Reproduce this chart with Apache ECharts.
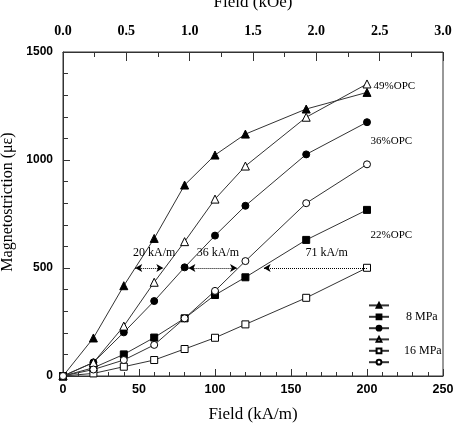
<!DOCTYPE html>
<html>
<head>
<meta charset="utf-8">
<script src="https://cdn.jsdelivr.net/npm/echarts@6/dist/echarts.min.js"></script>
<style>
  html, body { margin: 0; padding: 0; background: #fff; }
  #chart { width: 456px; height: 428px; }
</style>
</head>
<body>
<div id="chart"></div>
<script>
// field values (kA/m)
var fields = [0, 20, 40, 60, 80, 100, 120, 160, 200];

// magnetostriction (microstrain)
var mpa8_49 = [0, 176, 418, 637, 884, 1023, 1120, 1236, 1313];
var mpa8_36 = [0, 63, 202, 347, 503, 650, 788, 1026, 1175];
var mpa8_22 = [0, 38, 100, 178, 267, 375, 457, 630, 769];
var mpa16_49 = [0, 62, 231, 434, 622, 819, 972, 1198, 1352];
var mpa16_36 = [0, 30, 74, 144, 267, 394, 532, 800, 980];
var mpa16_22 = [0, 12, 43, 74, 125, 177, 239, 362, 501];

var topTicks = ['0.0', '0.5', '1.0', '1.5', '2.0', '2.5', '3.0'];

// dotted arrows at 500 microstrain: [fromX, toX, label, labelX]
var arrows = [
  [47.5, 66, '20 kA/m', 60],
  [82.5, 114.5, '36 kA/m', 102],
  [200, 132, '71 kA/m', 173.5]
];
var arrowY = 500;
var arrowLabelY = 572;

var opcLabels = [
  ['49%OPC', 218, 1340],
  ['36%OPC', 216, 1087],
  ['22%OPC', 216, 653]
];

function pairs(ys) {
  return fields.map(function (x, i) { return [x, ys[i]]; });
}

var serif = 'Liberation Serif';
var sans = 'Liberation Sans';

function mk(name, ys, symbol, filled) {
  return {
    name: name,
    type: 'line',
    data: pairs(ys),
    symbol: symbol,
    symbolSize: symbol === 'triangle' ? 8 : 7,
    showSymbol: true,
    lineStyle: { color: '#333', width: 1 },
    itemStyle: filled
      ? { color: '#000', borderColor: '#000', borderWidth: 1 }
      : { color: '#fff', borderColor: '#000', borderWidth: 1 },
    emphasis: { disabled: true },
    animation: false
  };
}

var series = [
  mk('8 MPa 49%OPC', mpa8_49, 'triangle', true),
  mk('8 MPa 22%OPC', mpa8_22, 'rect', true),
  mk('8 MPa 36%OPC', mpa8_36, 'circle', true),
  mk('16 MPa 49%OPC', mpa16_49, 'triangle', false),
  mk('16 MPa 22%OPC', mpa16_22, 'rect', false),
  mk('16 MPa 36%OPC', mpa16_36, 'circle', false)
];

// annotations series (arrows + text)
series.push({
  name: 'notes',
  type: 'line',
  data: [],
  silent: true,
  animation: false,
  markLine: {
    silent: true,
    animation: false,
    symbolSize: [6, 7],
    lineStyle: { color: '#000', type: 'dotted', width: 1 },
    label: { show: false },
    data: arrows.map(function (a, i) {
      return [
        { coord: [a[0], arrowY], symbol: i === 2 ? 'none' : 'arrow' },
        { coord: [a[1], arrowY], symbol: 'arrow' }
      ];
    })
  },
  markPoint: {
    silent: true,
    animation: false,
    symbol: 'circle',
    symbolSize: 0,
    label: {
      show: true,
      position: 'inside',
      color: '#000',
      fontFamily: serif,
      fontSize: 12
    },
    data: arrows.map(function (a) {
      return { coord: [a[3], arrowLabelY], value: a[2], label: { formatter: a[2] } };
    }).concat(opcLabels.map(function (o) {
      return { coord: [o[1], o[2]], value: o[0], label: { formatter: o[0], fontSize: 11 } };
    }))
  }
});

var myChart = echarts.init(document.getElementById('chart'));

var legendBase = {
  orient: 'vertical',
  left: 368,
  padding: 0,
  itemWidth: 20, itemHeight: 6, itemGap: 2,
  selectedMode: false
};

var option = {
  animation: false,
  backgroundColor: '#fff',
  grid: {
    left: 63, right: 13, top: 52, bottom: 52,
    outerBoundsMode: 'none',
    containLabel: false,
    show: true, borderColor: '#333', borderWidth: 1
  },
  legend: [
    Object.assign({}, legendBase, {
      top: 302,
      data: ['8 MPa 49%OPC', '8 MPa 22%OPC', '8 MPa 36%OPC'],
      formatter: function (n) { return n === '8 MPa 22%OPC' ? '8 MPa' : ''; },
      textStyle: { fontFamily: serif, fontSize: 12, lineHeight: 8, color: '#000', padding: [0, 0, 0, 12] }
    }),
    Object.assign({}, legendBase, {
      top: 336,
      data: ['16 MPa 49%OPC', '16 MPa 22%OPC', '16 MPa 36%OPC'],
      formatter: function (n) { return n === '16 MPa 22%OPC' ? '16 MPa' : ''; },
      textStyle: { fontFamily: serif, fontSize: 12, lineHeight: 8, color: '#000', padding: [0, 0, 0, 10] }
    })
  ],
  xAxis: [
    {
      type: 'value', position: 'bottom',
      min: 0, max: 250, interval: 50,
      name: 'Field (kA/m)', nameLocation: 'middle', nameGap: 30,
      nameTextStyle: { fontFamily: serif, fontSize: 17, color: '#000' },
      axisLine: { lineStyle: { color: '#333' } },
      axisTick: { inside: true, length: 7, lineStyle: { color: '#333' } },
      minorTick: { show: true, splitNumber: 5, length: 4, lineStyle: { color: '#333' } },
      splitLine: { show: false },
      axisLabel: { fontFamily: sans, fontWeight: 'bold', fontSize: 12.5, color: '#000', margin: 7 }
    },
    {
      type: 'value', position: 'top',
      min: 0, max: 3, interval: 0.5,
      name: 'Field (kOe)', nameLocation: 'middle', nameGap: 41,
      nameTextStyle: { fontFamily: serif, fontSize: 17, color: '#000' },
      axisLine: { lineStyle: { color: '#333' } },
      axisTick: { inside: true, length: 9, lineStyle: { color: '#333' } },
      minorTick: { show: true, splitNumber: 2, length: 5, lineStyle: { color: '#333' } },
      splitLine: { show: false },
      axisLabel: {
        fontFamily: serif, fontWeight: 'bold', fontSize: 14, color: '#000', margin: 14,
        formatter: function (v) { return topTicks[Math.round(v / 0.5)]; }
      }
    }
  ],
  yAxis: [
    {
      type: 'value',
      min: 0, max: 1500, interval: 500,
      name: 'Magnetostriction (\u03bc\u03b5)', nameLocation: 'middle', nameGap: 37,
      nameTextStyle: { fontFamily: serif, fontSize: 16, color: '#000', padding: [0, 0, 0, 24] },
      axisLine: { lineStyle: { color: '#333' } },
      axisTick: { inside: true, length: 7, lineStyle: { color: '#333' } },
      minorTick: { show: true, splitNumber: 5, length: 5, lineStyle: { color: '#333' } },
      splitLine: { show: false },
      axisLabel: {
        fontFamily: sans, fontWeight: 'bold', fontSize: 12, color: '#000', margin: 10,
        formatter: function (v) { return String(v); }
      }
    }
  ],
  series: series
};

myChart.setOption(option);
</script>
</body>
</html>
